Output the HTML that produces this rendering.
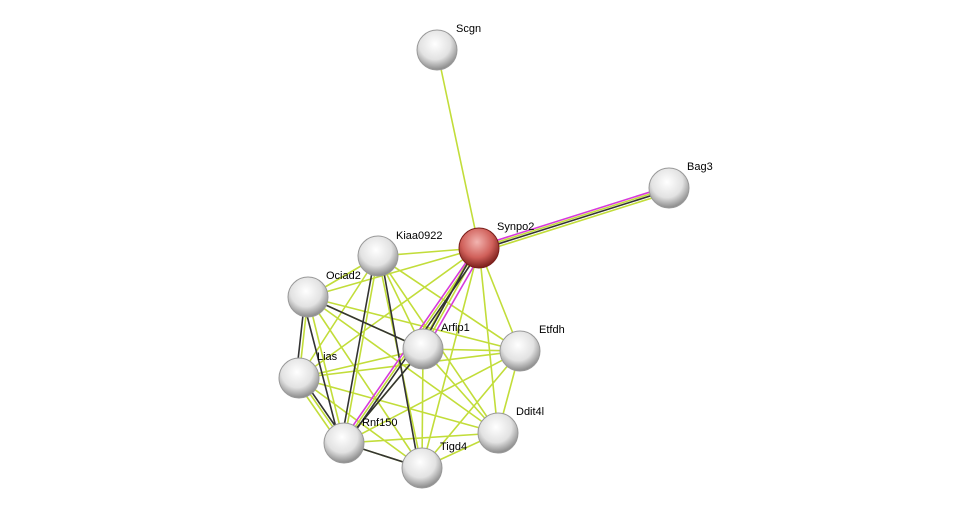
<!DOCTYPE html>
<html><head><style>body{margin:0;background:#fff}svg{display:block}text{font-family:"Liberation Sans",sans-serif;font-size:11px;fill:#000}</style></head><body>
<svg width="975" height="513" viewBox="0 0 975 513">
<defs>
<radialGradient id="g" cx="45%" cy="35%" r="65%"><stop offset="0" stop-color="#fff"/><stop offset="0.6" stop-color="#e2e2e2"/><stop offset="1" stop-color="#8a8a8a"/></radialGradient>
<radialGradient id="r" cx="45%" cy="35%" r="65%"><stop offset="0" stop-color="#f2b4b0"/><stop offset="0.6" stop-color="#d0605a"/><stop offset="1" stop-color="#7a1e1a"/></radialGradient>
</defs>
<g stroke="#c2dd3a" stroke-width="1.6" fill="none">
<path d="M437 50L479 248M479 248L669 188"/>
<path d="M479 248L378 256M479 248L308 297M479 248L423 349M479 248L520 351M479 248L299 378M479 248L498 433M479 248L344 443M479 248L422 468
M378 256L308 297M378 256L423 349M378 256L520 351M378 256L299 378M378 256L498 433M378 256L344 443M378 256L422 468
M308 297L423 349M308 297L520 351M308 297L299 378M308 297L498 433M308 297L344 443M308 297L422 468
M423 349L520 351M423 349L299 378M423 349L498 433M423 349L344 443M423 349L422 468
M520 351L299 378M520 351L498 433M520 351L344 443M520 351L422 468
M299 378L498 433M299 378L344 443M299 378L422 468
M498 433L344 443M498 433L422 468M344 443L422 468"/>
<path d="M481 252L671 192M296 381L341 446M476 246L420 347"/>
</g>
<g stroke="#333" stroke-width="1.6" fill="none">
<path d="M479 250L669 190M375 256L341 443M381 256L419 468M305 297L296 378M308 297L423 349M302 378L347 443M344 443L422 468M423 349L344 443M482 248L347 443M476 248L420 349M303 300L340 443"/>
</g>
<g stroke="#d63adb" stroke-width="1.6" fill="none">
<path d="M479 246L669 186M476 248L341 443M483 250L426 349"/>
</g>
<g stroke="#999" stroke-width="1">
<circle cx="437" cy="50" r="20" fill="url(#g)"/>
<circle cx="669" cy="188" r="20" fill="url(#g)"/>
<circle cx="378" cy="256" r="20" fill="url(#g)"/>
<circle cx="308" cy="297" r="20" fill="url(#g)"/>
<circle cx="423" cy="349" r="20" fill="url(#g)"/>
<circle cx="520" cy="351" r="20" fill="url(#g)"/>
<circle cx="299" cy="378" r="20" fill="url(#g)"/>
<circle cx="498" cy="433" r="20" fill="url(#g)"/>
<circle cx="344" cy="443" r="20" fill="url(#g)"/>
<circle cx="422" cy="468" r="20" fill="url(#g)"/>
<circle cx="479" cy="248" r="20" fill="url(#r)" stroke="#7a1e1a"/>
</g>
<text x="456" y="32">Scgn</text>
<text x="687" y="170">Bag3</text>
<text x="497" y="230">Synpo2</text>
<text x="396" y="239">Kiaa0922</text>
<text x="326" y="279">Ociad2</text>
<text x="441" y="331">Arfip1</text>
<text x="539" y="333">Etfdh</text>
<text x="317" y="360">Lias</text>
<text x="516" y="415">Ddit4l</text>
<text x="362" y="426">Rnf150</text>
<text x="440" y="450">Tigd4</text>
</svg>
</body></html>
